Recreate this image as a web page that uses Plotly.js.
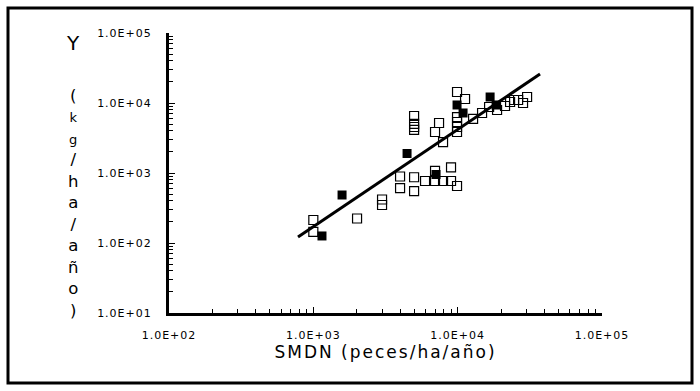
<!DOCTYPE html>
<html>
<head>
<meta charset="utf-8">
<script src="https://cdn.plot.ly/plotly-3.0.1.min.js"></script>
<style>
html,body{margin:0;padding:0;background:#fff}
#chart{width:700px;height:391px}
#chart .xtick text, #chart .ytick text{letter-spacing:1px}
#chart .xtitle{letter-spacing:2px}
</style>
</head>
<body>
<div id="chart"></div>
<script>
// Open squares
const openX = [1000, 1000, 2009, 2993, 2993, 3990, 3990, 4990, 4990, 5943, 6970, 6970, 7920, 8995, 8995, 9900,
  4990, 4990, 4990, 4990, 6970, 7430, 7920, 9900, 11250, 9900, 9900, 9900, 9900, 12790, 14760, 16510, 18750, 21290, 23070, 24600, 26230, 28380, 30270];
const openY = [213, 144, 224, 418, 349, 891, 610, 870, 550, 769, 1070, 769, 769, 1200, 769, 652,
  6520, 5030, 4540, 4120, 3850, 5180, 2770, 14360, 11400, 6300, 5350, 4540, 3850, 5930, 7200, 8770, 7940, 9060, 10330, 11040, 11040, 10000, 12180];
// Filled squares
const filledX = [1148, 1581, 4460, 7080, 9900, 10900, 16780, 18460];
const filledY = [126, 485, 1900, 952, 9370, 7200, 12180, 9370];
// Regression line end points
const lineX = [783, 37200];
const lineY = [122, 25950];
// Ticks
const xTickVals = [100, 1000, 10000, 100000];
const xTickText = ['1.0E+02', '1.0E+03', '1.0E+04', '1.0E+05'];
const yTickVals = [10, 100, 1000, 10000, 100000];
const yTickText = ['1.0E+01', '1.0E+02', '1.0E+03', '1.0E+04', '1.0E+05'];
// Vertical y title: first letter, then the stacked unit characters
const yTitleHead = 'Y';
const yTitleUnit = ['(', 'k', 'g', '/', 'h', 'a', '/', 'a', 'ñ', 'o', ')'];
const smallChars = ['k', 'g'];

const FONT = 'DejaVu Sans, sans-serif';
const L = 169, R = 602, T = 33, B = 313;
const px2x = p => (p - L) / (R - L);
const px2y = p => (B - p) / (B - T);

const traces = [
  {x: lineX, y: lineY, mode: 'lines', line: {color: 'black', width: 3}, hoverinfo: 'skip'},
  {x: openX, y: openY, mode: 'markers', marker: {symbol: 'square-open', size: 9, color: 'black', line: {width: 1.2, color: 'black'}}},
  {x: filledX, y: filledY, mode: 'markers', marker: {symbol: 'square', size: 9, color: 'black', line: {width: 0}}}
];

const unitText = yTitleUnit.map(c => smallChars.includes(c) ? '<span style="font-size:13px">' + c + '</span>' : c).join('<br>');

const annotations = [
  {text: yTitleHead, showarrow: false, xref: 'paper', yref: 'paper', x: px2x(73), y: px2y(43),
   xanchor: 'center', yanchor: 'middle', font: {family: FONT, size: 20, color: 'black'}},
  {text: unitText, showarrow: false, xref: 'paper', yref: 'paper', x: px2x(73), y: px2y(84),
   xanchor: 'center', yanchor: 'top', align: 'center', font: {family: FONT, size: 16.5, color: 'black'}}
];

const axisCommon = {
  type: 'log', showgrid: false, zeroline: false,
  showline: true, linecolor: 'black', linewidth: 3,
  ticks: 'inside', ticklen: 6, tickwidth: 1, tickcolor: 'black',
  tickmode: 'array',
  tickfont: {family: FONT, size: 11, color: 'black'},
  minor: {ticks: 'inside', ticklen: 4, tickwidth: 1, tickcolor: 'black', dtick: 'D1', showgrid: false}
};

const layout = {
  width: 700, height: 391,
  margin: {l: L, r: 700 - R, t: T, b: 391 - B, pad: 0},
  paper_bgcolor: 'white', plot_bgcolor: 'white',
  showlegend: false,
  xaxis: Object.assign({}, axisCommon, {
    range: [2, 5], tickvals: xTickVals, ticktext: xTickText, ticklabelstandoff: 10,
    title: {text: 'SMDN (peces/ha/año)', font: {family: FONT, size: 17, color: 'black'}, standoff: 5}
  }),
  yaxis: Object.assign({}, axisCommon, {
    range: [1, 5], tickvals: yTickVals, ticktext: yTickText, ticklabelstandoff: 12
  }),
  annotations: annotations,
  shapes: [{
    type: 'rect', xref: 'paper', yref: 'paper',
    x0: px2x(8), x1: px2x(692), y0: px2y(383), y1: px2y(8),
    line: {color: 'black', width: 3}, fillcolor: 'rgba(0,0,0,0)', layer: 'above'
  }]
};

Plotly.newPlot('chart', traces, layout, {displayModeBar: false, staticPlot: true});
</script>
</body>
</html>
